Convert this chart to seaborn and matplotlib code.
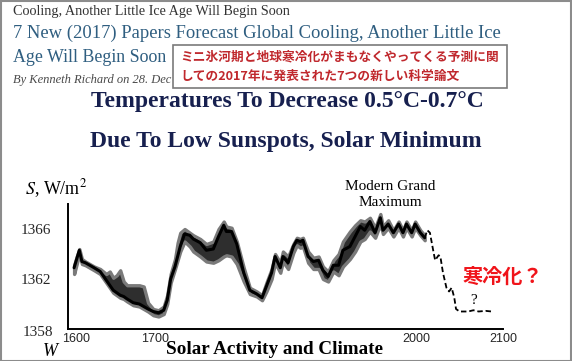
import matplotlib
matplotlib.use('Agg')
import matplotlib.pyplot as plt
import seaborn as sns
from matplotlib.patches import Rectangle
from matplotlib.transforms import ScaledTranslation

# ---------------- data ----------------
years = [1607, 1610, 1613, 1616, 1620, 1625, 1630, 1637, 1644, 1648, 1652, 1656, 1660,
         1664, 1668, 1675, 1682, 1687, 1692, 1698, 1704, 1710, 1714, 1718, 1723, 1726,
         1729, 1734, 1740, 1744, 1752, 1759, 1767, 1773, 1779, 1782, 1788, 1794, 1802,
         1809, 1817, 1823, 1828, 1834, 1838, 1844, 1847, 1853, 1859, 1863, 1867, 1870,
         1876, 1882, 1888, 1893, 1899, 1905, 1911, 1916, 1924, 1930, 1936, 1941, 1947,
         1953, 1959, 1962, 1968, 1974, 1980, 1985, 1989, 1995, 1999, 2005, 2010]
irradiance = [1362.9, 1363.6, 1364.3, 1363.4, 1363.3, 1363.1, 1362.9, 1362.6, 1361.9, 1361.5,
              1361.1, 1360.9, 1360.7, 1360.6, 1360.4, 1360.1, 1360.0, 1359.8, 1359.6, 1359.4,
              1359.3, 1359.5, 1360.3, 1362.0, 1363.0, 1363.8, 1364.6, 1365.6, 1365.5, 1365.2,
              1364.9, 1364.3, 1364.4, 1365.4, 1366.3, 1365.8, 1365.8, 1364.8, 1362.5, 1361.1,
              1360.8, 1360.5, 1361.4, 1362.5, 1363.8, 1362.9, 1363.8, 1363.3, 1364.6, 1365.1,
              1365.0, 1365.1, 1363.8, 1363.4, 1363.5, 1362.7, 1362.2, 1363.1, 1363.1, 1364.3,
              1364.6, 1365.4, 1366.2, 1365.9, 1366.6, 1365.7, 1366.9, 1365.9, 1366.4, 1365.7,
              1366.4, 1365.7, 1366.4, 1365.7, 1366.4, 1365.7, 1365.3]
band_hi = [1363.1, 1363.8, 1364.4, 1363.6, 1363.4, 1363.2, 1363.0, 1362.8, 1362.4, 1362.6,
           1362.1, 1362.3, 1362.7, 1361.8, 1361.5, 1361.5, 1361.5, 1361.4, 1360.1, 1359.6,
           1359.5, 1359.8, 1360.7, 1362.4, 1363.6, 1364.9, 1365.7, 1366.0, 1365.7, 1365.5,
           1365.2, 1364.8, 1365.0, 1366.0, 1366.6, 1366.2, 1366.1, 1365.0, 1362.9, 1361.3,
           1361.0, 1360.7, 1361.7, 1362.8, 1364.0, 1363.3, 1364.2, 1363.8, 1364.8, 1365.3,
           1365.2, 1365.3, 1364.2, 1363.7, 1363.8, 1363.0, 1362.6, 1363.5, 1364.0, 1365.0,
           1365.8, 1366.3, 1366.7, 1366.6, 1366.9, 1366.1, 1367.2, 1366.2, 1366.7, 1365.9,
           1366.6, 1365.9, 1366.6, 1365.9, 1366.6, 1365.9, 1365.5]
band_lo = [1362.4, 1363.2, 1364.0, 1363.2, 1363.1, 1362.9, 1362.7, 1362.4, 1361.7, 1361.3,
           1360.9, 1360.7, 1360.5, 1360.4, 1360.2, 1359.9, 1359.8, 1359.6, 1359.4, 1359.1,
           1359.0, 1359.2, 1360.0, 1361.7, 1362.8, 1363.5, 1364.2, 1365.0, 1364.6, 1364.2,
           1363.8, 1363.4, 1363.3, 1363.5, 1363.8, 1363.9, 1363.8, 1363.2, 1361.8, 1360.8,
           1360.6, 1360.3, 1361.0, 1362.0, 1363.3, 1362.5, 1363.4, 1362.8, 1364.1, 1364.7,
           1364.5, 1364.6, 1363.3, 1362.8, 1362.8, 1362.0, 1361.8, 1362.6, 1362.3, 1363.0,
           1363.6, 1364.2, 1365.0, 1365.2, 1365.8, 1365.3, 1366.4, 1365.6, 1366.1, 1365.4,
           1366.1, 1365.4, 1366.1, 1365.4, 1366.1, 1365.5, 1365.1]

forecast_years = [2010, 2013, 2016, 2020, 2022, 2026, 2028, 2031, 2035, 2038, 2041, 2044,
                  2046, 2050, 2060, 2066, 2072, 2080, 2087]
forecast_vals = [1365.3, 1365.9, 1365.7, 1364.2, 1363.5, 1363.9, 1363.8, 1362.5, 1361.3,
                 1361.0, 1361.3, 1360.5, 1359.6, 1359.4, 1359.4, 1359.5, 1359.4, 1359.45, 1359.4]

x_ticks = [1600, 1700, 1800, 1900, 2000, 2100]
x_tick_labels = ['1600', '1700', '', '', '2000', '2100']
y_ticks = [1358, 1362, 1366]
y_tick_labels = ['1358', '1362', '1366']

# ---------------- figure ----------------
sns.set_style('white')
plt.rcParams['font.family'] = ['Liberation Serif', 'DejaVu Serif']
plt.rcParams['mathtext.fontset'] = 'stix'

W, H = 572, 361
fig = plt.figure(figsize=(5.72, 3.61), dpi=100)
fig.patch.set_facecolor('white')


def fx(x):
    return x / W


def fy(y):
    return 1 - y / H


ax = fig.add_axes([fx(68), fy(329), (503 - 68) / W, (329 - 204) / H])
ax.set_facecolor('none')

ax.fill_between(years, band_lo, band_hi, facecolor='#2e2e2e', edgecolor='#7a7a7a',
                linewidth=2.4, zorder=2)
sns.lineplot(x=years, y=irradiance, ax=ax, color='black', linewidth=2.2, zorder=3)
sns.lineplot(x=forecast_years, y=forecast_vals, ax=ax, color='black', linewidth=1.3,
             zorder=3)
ax.lines[-1].set_dashes([3, 1.6])

ax.set_xlim(1600, 2100)
ax.set_ylim(1358, 1368)
ax.set_xlabel('')
ax.set_ylabel('')
for s in ['top', 'right']:
    ax.spines[s].set_visible(False)
for s in ['left', 'bottom']:
    ax.spines[s].set_color('black')
    ax.spines[s].set_linewidth(1.4)

ax.set_xticks(x_ticks)
ax.set_xticklabels(x_tick_labels, fontsize=9, family=['Liberation Sans', 'DejaVu Sans'])
ax.set_yticks(y_ticks)
ax.set_yticklabels(y_tick_labels, fontsize=11)
ax.tick_params(axis='both', direction='in', length=6, width=1.3, color='black')
ax.tick_params(axis='x', pad=3)
ax.tick_params(axis='y', pad=12)
lbl0 = ax.get_xticklabels()[0]
lbl0.set_transform(lbl0.get_transform() + ScaledTranslation(8 / 100, 0, fig.dpi_scale_trans))
ylbl0 = ax.get_yticklabels()[0]
ylbl0.set_transform(ylbl0.get_transform() + ScaledTranslation(2 / 100, -2 / 100, fig.dpi_scale_trans))

# ---------------- page texts ----------------
fig.text(fx(13), fy(12), 'Cooling, Another Little Ice Age Will Begin Soon', fontsize=10.2,
         color='#333333', va='center', ha='left')
fig.text(fx(13), fy(33), '7 New (2017) Papers Forecast Global Cooling, Another Little Ice',
         fontsize=13.4, color='#2f5e80', va='center', ha='left')
fig.text(fx(13), fy(57), 'Age Will Begin Soon', fontsize=12.9, color='#2f5e80',
         va='center', ha='left')
fig.text(fx(13), fy(80), 'By Kenneth Richard on 28. Dec', fontsize=9,
         style='italic', color='#4a4a4a', va='center', ha='left')

box = Rectangle((fx(173), fy(88)), (507 - 173) / W, (88 - 45) / H, transform=fig.transFigure,
                facecolor='white', edgecolor='#7a7a7a', linewidth=1.2, zorder=5)
fig.add_artist(box)
jp = ['Noto Sans CJK JP', 'DejaVu Sans']
fig.text(fx(180), fy(57), 'ミニ氷河期と地球寒冷化がまもなくやってくる予測に関', fontsize=9.15,
         fontweight='bold', color='#c0282d', family=jp, va='center', ha='left', zorder=6)
fig.text(fx(180), fy(76), 'しての2017年に発表された7つの新しい科学論文', fontsize=9.15,
         fontweight='bold', color='#c0282d', family=jp, va='center', ha='left', zorder=6)

fig.text(fx(287), fy(102), 'Temperatures To Decrease 0.5°C-0.7°C', fontsize=17,
         fontweight='bold', color='#17204f', va='center', ha='center')
fig.text(fx(286), fy(142), 'Due To Low Sunspots, Solar Minimum', fontsize=17,
         fontweight='bold', color='#17204f', va='center', ha='center')

# ---------------- chart annotations ----------------
fig.text(fx(25), fy(189), r'$S$, W/m$^2$', fontsize=13, color='black', va='center', ha='left')
fig.text(fx(390), fy(194), 'Modern Grand\nMaximum', fontsize=11, color='black',
         va='center', ha='center', linespacing=1.3)
fig.text(fx(474), fy(300), '?', fontsize=11, color='black', va='center', ha='center')
fig.text(fx(503), fy(276), '寒冷化？', fontsize=14.5, fontweight='bold', color='#f0141a',
         family=jp, va='center', ha='center')
fig.text(fx(274), fy(349), 'Solar Activity and Climate', fontsize=13.8, fontweight='bold',
         color='black', va='center', ha='center')
fig.text(fx(50), fy(351), 'W', fontsize=13, style='italic', color='black',
         va='center', ha='center')

border = Rectangle((0.001, 0.001), 0.997, 0.996, transform=fig.transFigure,
                   facecolor='none', edgecolor='#8c8c8c', linewidth=1.5, zorder=10)
fig.add_artist(border)

fig.savefig('out.png', dpi=100, facecolor='white')
